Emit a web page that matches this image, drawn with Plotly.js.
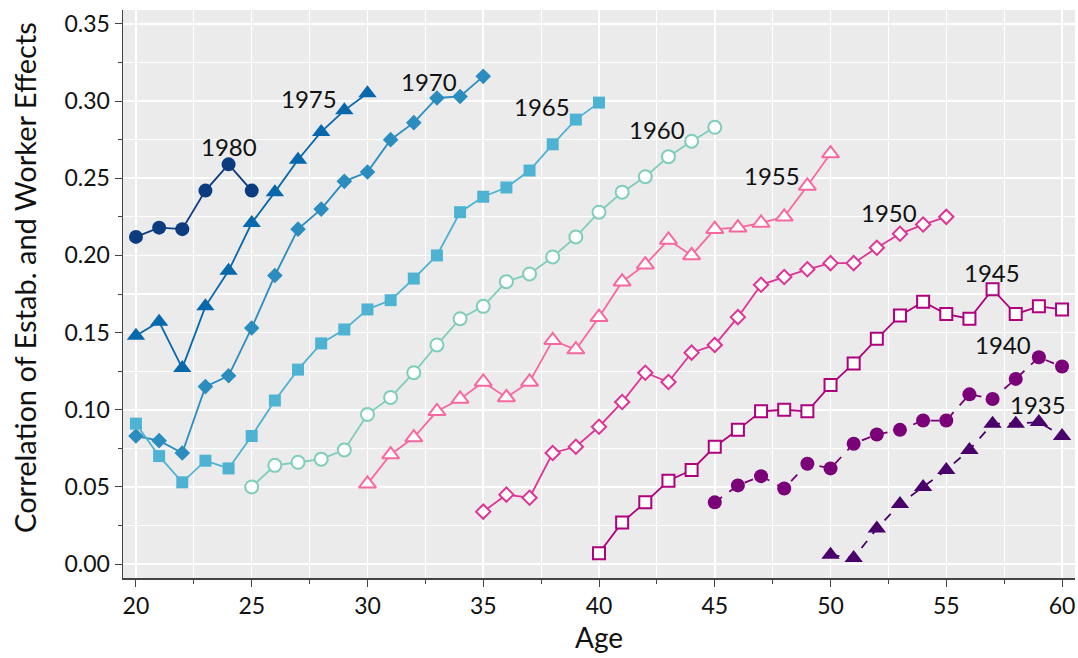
<!DOCTYPE html>
<html>
<head>
<meta charset="utf-8">
<script src="https://cdn.plot.ly/plotly-3.0.1.min.js"></script>
<style>html,body{margin:0;padding:0;background:#fff}#chart{width:1078px;height:658px}</style>
</head>
<body>
<div id="chart"></div>
<script>
// Cohort labels
const cohorts = ["1980","1975","1970","1965","1960","1955","1950","1945","1940","1935"];

// Ages per cohort
const age1980 = [20,21,22,23,24,25];
const age1975 = [20,21,22,23,24,25,26,27,28,29,30];
const age1970 = [20,21,22,23,24,25,26,27,28,29,30,31,32,33,34,35];
const age1965 = [20,21,22,23,24,25,26,27,28,29,30,31,32,33,34,35,36,37,38,39,40];
const age1960 = [25,26,27,28,29,30,31,32,33,34,35,36,37,38,39,40,41,42,43,44,45];
const age1955 = [30,31,32,33,34,35,36,37,38,39,40,41,42,43,44,45,46,47,48,49,50];
const age1950 = [35,36,37,38,39,40,41,42,43,44,45,46,47,48,49,50,51,52,53,54,55];
const age1945 = [40,41,42,43,44,45,46,47,48,49,50,51,52,53,54,55,56,57,58,59,60];
const age1940 = [45,46,47,48,49,50,51,52,53,54,55,56,57,58,59,60];
const age1935 = [50,51,52,53,54,55,56,57,58,59,60];

// Correlation values per cohort
const corr1980 = [0.212,0.218,0.217,0.242,0.259,0.242];
const corr1975 = [0.148,0.157,0.127,0.167,0.190,0.221,0.241,0.262,0.280,0.294,0.305];
const corr1970 = [0.083,0.080,0.072,0.115,0.122,0.153,0.187,0.217,0.230,0.248,0.254,0.275,0.286,0.302,0.303,0.316];
const corr1965 = [0.091,0.070,0.053,0.067,0.062,0.083,0.106,0.126,0.143,0.152,0.165,0.171,0.185,0.200,0.228,0.238,0.244,0.255,0.272,0.288,0.299];
const corr1960 = [0.050,0.064,0.066,0.068,0.074,0.097,0.108,0.124,0.142,0.159,0.167,0.183,0.188,0.199,0.212,0.228,0.241,0.251,0.264,0.274,0.283];
const corr1955 = [0.052,0.071,0.082,0.099,0.107,0.118,0.108,0.118,0.145,0.139,0.160,0.183,0.194,0.210,0.200,0.217,0.218,0.221,0.225,0.245,0.266];
const corr1950 = [0.034,0.045,0.043,0.072,0.076,0.089,0.105,0.124,0.118,0.137,0.142,0.160,0.181,0.186,0.191,0.195,0.195,0.205,0.214,0.220,0.225];
const corr1945 = [0.007,0.027,0.040,0.054,0.061,0.076,0.087,0.099,0.100,0.099,0.116,0.130,0.146,0.161,0.170,0.162,0.159,0.178,0.162,0.167,0.165];
const corr1940 = [0.040,0.051,0.057,0.049,0.065,0.062,0.078,0.084,0.087,0.093,0.093,0.110,0.107,0.120,0.134,0.128];
const corr1935 = [0.006,0.004,0.023,0.039,0.050,0.061,0.074,0.091,0.091,0.092,0.083];

// Label anchor positions (age, value) for cohort text labels
const labelAge = [24.03,27.49,32.67,37.52,42.49,47.47,52.53,56.98,57.46,58.98];
const labelVal = [0.2705,0.3014,0.3126,0.2964,0.2813,0.2515,0.2275,0.1891,0.1426,0.1037];

const ages = [age1980,age1975,age1970,age1965,age1960,age1955,age1950,age1945,age1940,age1935];
const vals = [corr1980,corr1975,corr1970,corr1965,corr1960,corr1955,corr1950,corr1945,corr1940,corr1935];

const colors = ["#0d3b80","#0868ac","#2b8cbe","#4eb3d3","#7fcdbb","#f768a1","#dd3497","#ae017e","#7a0177","#49006a"];
const symbols = ["circle","triangle-up","diamond","square","circle-open","triangle-up-open","diamond-open","square-open","circle","triangle-up"];
const sizes = [14,16,12,12,13,15,11,12,14,16];
const dashes = ["solid","solid","solid","solid","solid","solid","solid","solid","dash","dash"];

const traces = cohorts.map((c,i)=>{
  const open = symbols[i].endsWith("-open");
  return {
    type:"scatter", mode:"lines+markers", name:c,
    x: ages[i], y: vals[i],
    line:{color:colors[i], width:1.8, dash:dashes[i]},
    marker:{
      symbol: open ? symbols[i].replace("-open","") : symbols[i],
      size:sizes[i],
      color: open ? "#ffffff" : colors[i],
      line:{color:colors[i], width: open ? 2 : 0}
    },
    showlegend:false, hoverinfo:"x+y+name"
  };
});

const font = "Lato, 'Noto Sans', sans-serif";
const annotations = cohorts.map((c,i)=>({
  x: labelAge[i], y: labelVal[i], xref:"x", yref:"y",
  text:c, showarrow:false,
  font:{family:font, size:24, color:"#111"}
}));
// y-axis title (placed as paper annotation to match reference offset)
annotations.push({
  xref:"paper", yref:"paper", x:-0.103, y:0.53, xanchor:"center", yanchor:"middle",
  text:"Correlation of Estab. and Worker Effects", textangle:-90, showarrow:false,
  font:{family:font, size:29, color:"#111"}
});

const layout = {
  width:1078, height:658,
  margin:{l:123, r:3, t:10, b:80},
  paper_bgcolor:"#ffffff", plot_bgcolor:"#ebebeb",
  font:{family:font, size:23, color:"#111"},
  xaxis:{
    range:[19.44,60.56], tickmode:"linear", tick0:20, dtick:5,
    ticks:"outside", ticklen:7, tickcolor:"#444", tickwidth:1,
    showline:true, linecolor:"#444", linewidth:1.5,
    showgrid:true, gridcolor:"#ffffff", gridwidth:1.5, zeroline:false,
    minor:{tick0:20, dtick:2.5, ticks:"outside", ticklen:4, tickcolor:"#444", showgrid:true, gridcolor:"#ffffff", gridwidth:1.2},
    tickfont:{family:font, size:23, color:"#111"},
    title:{text:"Age", font:{family:font, size:28, color:"#111"}, standoff:10}
  },
  yaxis:{
    range:[-0.009,0.359], tickmode:"linear", tick0:0, dtick:0.05, tickformat:".2f",
    ticks:"outside", ticklen:7, tickcolor:"#444", tickwidth:1,
    showline:true, linecolor:"#444", linewidth:1.5,
    showgrid:true, gridcolor:"#ffffff", gridwidth:1.5, zeroline:false,
    minor:{tick0:0, dtick:0.025, ticks:"outside", ticklen:4, tickcolor:"#444", showgrid:true, gridcolor:"#ffffff", gridwidth:1.2},
    tickfont:{family:font, size:23, color:"#111"}
  },
  annotations: annotations
};

Plotly.newPlot("chart", traces, layout, {displayModeBar:false, staticPlot:true});
</script>
</body>
</html>
